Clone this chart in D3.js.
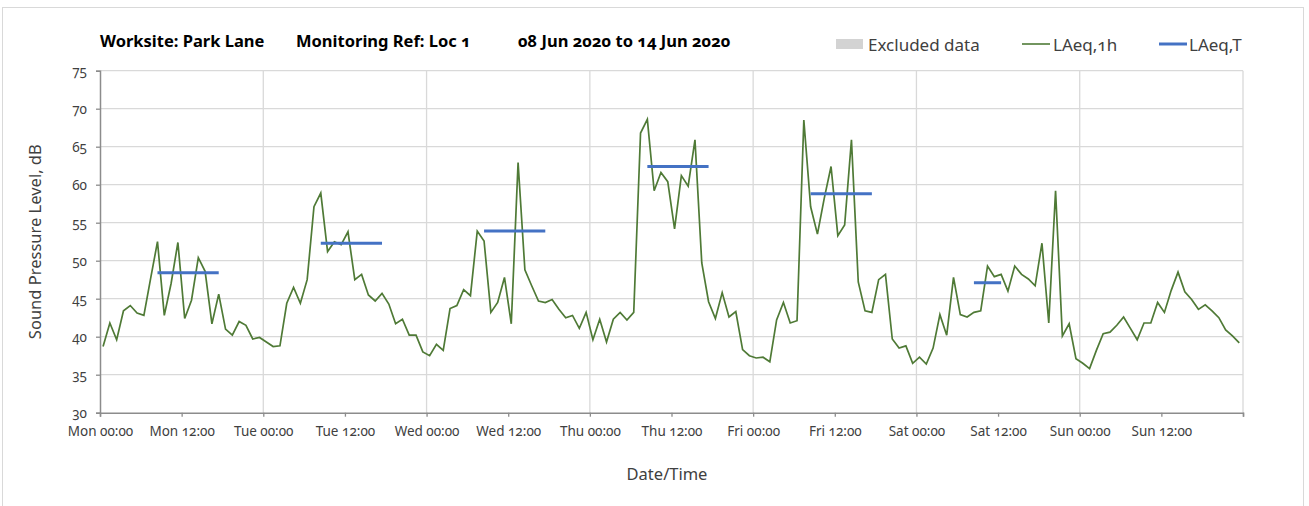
<!DOCTYPE html>
<html>
<head>
<meta charset="utf-8">
<script src="https://cdn.jsdelivr.net/npm/d3@7"></script>
<style>
  body { margin: 0; background: #fff; }
  svg text { font-family: "Noto Sans", sans-serif; font-variant-numeric: oldstyle-nums; }
</style>
</head>
<body>
<div id="chart"></div>
<script>
// hourly LAeq,1h values, Mon 08 Jun 2020 00:00 onwards
var laeq1h = [
  38.7, 41.8, 39.6, 43.4, 44.1, 43.1, 42.8, 47.7, 52.5, 42.8, 47.0, 52.4,
  42.4, 44.8, 50.4, 48.6, 41.7, 45.6, 41.0, 40.2, 42.0, 41.5, 39.7, 39.9,
  39.3, 38.7, 38.8, 44.4, 46.5, 44.4, 47.5, 57.1, 58.9, 51.2, 52.5, 52.1,
  53.8, 47.5, 48.2, 45.5, 44.7, 45.7, 44.3, 41.7, 42.3, 40.2, 40.2, 38.0,
  37.5, 39.0, 38.2, 43.7, 44.1, 46.2, 45.4, 53.9, 52.6, 43.2, 44.5, 47.8,
  41.7, 62.9, 48.8, 46.7, 44.7, 44.5, 44.9, 43.6, 42.5, 42.8, 41.1, 43.2,
  39.6, 42.3, 39.3, 42.3, 43.2, 42.2, 43.2, 66.8, 68.6, 59.2, 61.6, 60.4,
  54.2, 61.2, 59.8, 65.9, 49.7, 44.6, 42.4, 45.8, 42.6, 43.3, 38.3, 37.5,
  37.2, 37.3, 36.7, 42.2, 44.5, 41.8, 42.1, 68.5, 57.1, 53.5, 58.2, 62.4,
  53.3, 54.7, 65.9, 47.2, 43.4, 43.2, 47.5, 48.2, 39.7, 38.5, 38.8, 36.5,
  37.3, 36.4, 38.5, 42.9, 40.2, 47.8, 42.9, 42.6, 43.2, 43.4, 49.3, 47.9,
  48.2, 46.0, 49.3, 48.2, 47.6, 46.7, 52.3, 41.8, 59.2, 40.1, 41.7, 37.1,
  36.5, 35.8, 38.2, 40.4, 40.6, 41.5, 42.6, 41.1, 39.6, 41.8, 41.8, 44.5,
  43.2, 46.1, 48.5, 45.9, 44.9, 43.6, 44.2, 43.4, 42.5, 40.9, 40.1, 39.2
];

// LAeq,T for working periods (hour index from / to, value)
var periodFrom = [8, 32, 56, 80, 104, 128];
var periodTo = [17, 41, 65, 89, 113, 132];
var laeqT = [48.4, 52.3, 53.9, 62.4, 58.8, 47.1];

var xTickLabels = ["Mon 00:00", "Mon 12:00", "Tue 00:00", "Tue 12:00", "Wed 00:00", "Wed 12:00",
  "Thu 00:00", "Thu 12:00", "Fri 00:00", "Fri 12:00", "Sat 00:00", "Sat 12:00", "Sun 00:00", "Sun 12:00", ""];
var yTicks = [30, 35, 40, 45, 50, 55, 60, 65, 70, 75];

var W = 1309, H = 506;
var margin = { top: 70.7, right: 66, bottom: 93.3, left: 100 };
var width = W - margin.left - margin.right,
    height = H - margin.top - margin.bottom;

var start = Date.UTC(2020, 5, 8);
var HOUR = 3600 * 1000;
function hourToDate(h) { return new Date(start + h * HOUR); }

var svg = d3.select("#chart").append("svg")
    .attr("width", W).attr("height", H);

// outer chart border
svg.append("rect")
    .attr("x", 2.5).attr("y", 7.5)
    .attr("width", 1301).attr("height", 520)
    .style("fill", "none").style("stroke", "#d9d9d9");

var g = svg.append("g")
    .attr("transform", "translate(" + margin.left + "," + margin.top + ")");

var x = d3.scaleUtc()
    .domain([hourToDate(0), hourToDate(168)])
    .range([0, width]);
var y = d3.scaleLinear()
    .domain([30, 75])
    .range([height, 0]);

// gridlines
g.append("g").selectAll("line")
    .data(yTicks.slice(1))
    .enter().append("line")
    .attr("x1", 0).attr("x2", width)
    .attr("y1", function (d) { return y(d); })
    .attr("y2", function (d) { return y(d); })
    .style("stroke", "#d9d9d9").style("stroke-width", 1.3);

g.append("g").selectAll("line")
    .data(d3.range(1, 8))
    .enter().append("line")
    .attr("x1", function (d) { return x(hourToDate(d * 24)); })
    .attr("x2", function (d) { return x(hourToDate(d * 24)); })
    .attr("y1", 0).attr("y2", height)
    .style("stroke", "#d9d9d9").style("stroke-width", 1.3);

// axes
var xTickValues = xTickLabels.map(function (d, i) { return hourToDate(i * 12); });
var xAxis = g.append("g")
    .attr("transform", "translate(0," + height + ")")
    .call(d3.axisBottom(x).tickValues(xTickValues).tickSize(4).tickPadding(10)
        .tickFormat(function (d, i) { return xTickLabels[i]; }));

var yAxis = g.append("g")
    .call(d3.axisLeft(y).tickValues(yTicks).tickSize(4).tickPadding(9));

[xAxis, yAxis].forEach(function (a) {
    a.select(".domain").style("stroke", "#8c8c8c").style("stroke-width", 1.5);
    a.selectAll(".tick line").style("stroke", "#8c8c8c").style("stroke-width", 1.3);
    a.selectAll(".tick text").style("fill", "#404040").style("font-size", "13.5px");
});

// LAeq,1h line
var line = d3.line()
    .x(function (d, i) { return x(hourToDate(i + 0.45)); })
    .y(function (d) { return y(d); });

g.append("path")
    .datum(laeq1h)
    .attr("d", line)
    .style("fill", "none")
    .style("stroke", "#4f7a36")
    .style("stroke-width", 1.7)
    .style("stroke-linejoin", "miter");

// LAeq,T bars
g.append("g").selectAll("line")
    .data(laeqT)
    .enter().append("line")
    .attr("x1", function (d, i) { return x(hourToDate(periodFrom[i] + 0.45)); })
    .attr("x2", function (d, i) { return x(hourToDate(periodTo[i] + 0.45)); })
    .attr("y1", function (d) { return y(d); })
    .attr("y2", function (d) { return y(d); })
    .style("stroke", "#4472c4")
    .style("stroke-width", 3);

// title
var title = svg.append("g").style("font-weight", "bold").style("font-size", "16.5px").style("fill", "#000");
title.append("text").attr("x", 100).attr("y", 47).text("Worksite: Park Lane");
title.append("text").attr("x", 296).attr("y", 47).text("Monitoring Ref: Loc 1");
title.append("text").attr("x", 518).attr("y", 47).text("08 Jun 2020 to 14 Jun 2020");

// legend
var legend = svg.append("g").style("font-size", "17px").style("fill", "#404040");
legend.append("rect").attr("x", 836).attr("y", 39).attr("width", 27).attr("height", 10)
    .style("fill", "#d3d3d3");
legend.append("text").attr("x", 868).attr("y", 51).text("Excluded data");
legend.append("line").attr("x1", 1022).attr("x2", 1050).attr("y1", 44).attr("y2", 44)
    .style("stroke", "#4f7a36").style("stroke-width", 1.6);
legend.append("text").attr("x", 1053).attr("y", 51).text("LAeq,1h");
legend.append("line").attr("x1", 1159).attr("x2", 1187).attr("y1", 44).attr("y2", 44)
    .style("stroke", "#4472c4").style("stroke-width", 3);
legend.append("text").attr("x", 1189).attr("y", 51).text("LAeq,T");

// axis titles
svg.append("text")
    .attr("transform", "translate(41," + (margin.top + height / 2) + ") rotate(-90)")
    .style("text-anchor", "middle").style("font-size", "16.5px").style("fill", "#404040")
    .text("Sound Pressure Level, dB");

svg.append("text")
    .attr("x", 667).attr("y", 480)
    .style("text-anchor", "middle").style("font-size", "16.5px").style("fill", "#404040")
    .text("Date/Time");
</script>
</body>
</html>
